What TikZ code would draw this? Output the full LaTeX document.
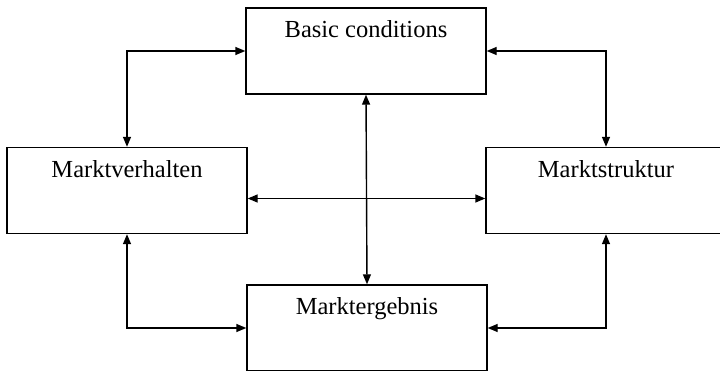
\documentclass[tikz,border=0pt]{standalone}
\usepackage{fontspec}
\setmainfont{Liberation Serif}
\usepackage{tikz}
\usetikzlibrary{arrows.meta}

\tikzset{
  blockbox/.style={draw, line width=1.4pt, inner sep=0, minimum width=240pt,
    text height=30pt, text depth=56pt, font=\fontsize{24.5}{28}\selectfont},
  link/.style={line width=1.4pt, {Triangle[length=10pt,width=8pt]}-{Triangle[length=10pt,width=8pt]}}
}

\begin{document}
\begin{tikzpicture}[x=1pt, y=-1pt]
    \useasboundingbox (0,0) rectangle (720,371);
    \node[blockbox] (bc) at (366,51) {Basic conditions};
    \node[blockbox] (mv) at (127,190.5) {Marktverhalten};
    \node[blockbox] (ms) at (606,190.5) {Marktstruktur};
    \node[blockbox] (me) at (367,328) {Marktergebnis};
    \draw[link] (bc.west) -| (mv.north);
    \draw[link] (bc.east) -| (ms.north);
    \draw[link] (mv.south) |- (me.west);
    \draw[link] (ms.south) |- (me.east);
    \draw[link] ([yshift=-8pt]mv.east) -- ([yshift=-8pt]ms.west);
    \draw[link] (bc.south) -- (me.north);
\end{tikzpicture}
\end{document}
